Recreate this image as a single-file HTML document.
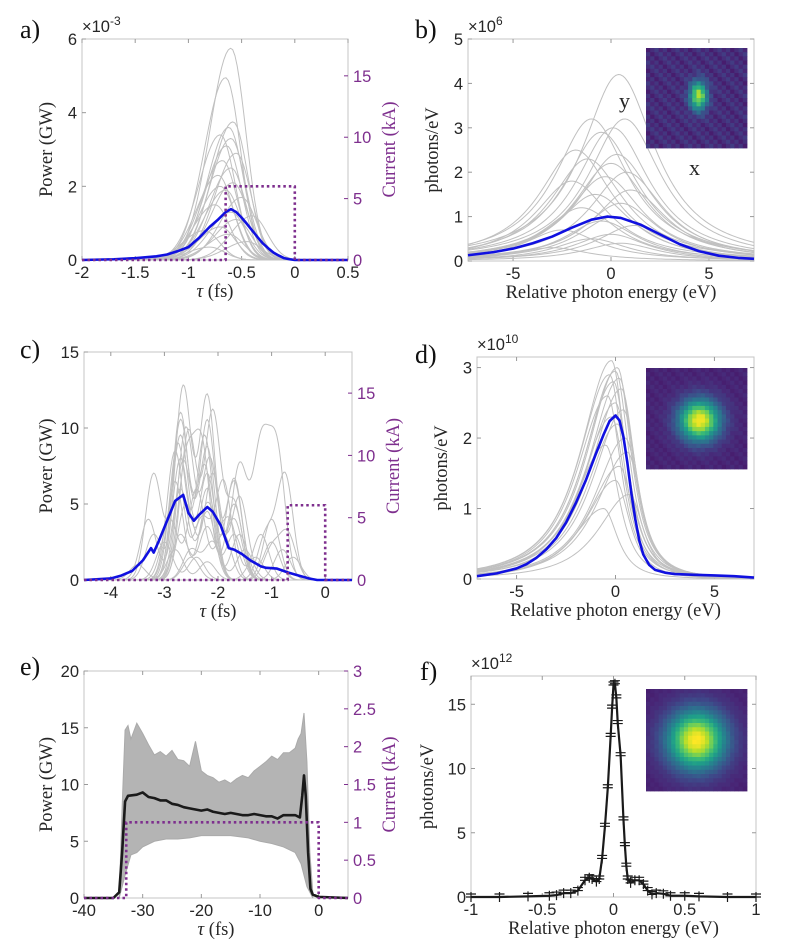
<!DOCTYPE html>
<html><head><meta charset="utf-8">
<style>
html,body{margin:0;padding:0;background:#fff;}
svg{display:block;}
.tk{font-family:"Liberation Sans",sans-serif;font-size:16.5px;fill:#262626;}
.lb{font-family:"Liberation Serif",serif;font-size:18.5px;fill:#262626;}
.pl{font-family:"Liberation Serif",serif;font-size:26px;fill:#111;}
</style></head>
<body>
<svg id="fig" width="787" height="945" viewBox="0 0 787 945"></svg>
<script>
// ---------- data ----------
// panel a
const aMeanX = [-2,-1.7,-1.5,-1.3,-1.2,-1.1,-1.0,-0.9,-0.8,-0.72,-0.65,-0.6,-0.55,-0.5,-0.45,-0.4,-0.35,-0.3,-0.25,-0.2,-0.15,-0.1,-0.05,0,0.5];
const aMeanY = [0,0.02,0.05,0.1,0.15,0.24,0.35,0.6,0.9,1.1,1.3,1.38,1.3,1.15,0.98,0.8,0.62,0.45,0.32,0.2,0.12,0.05,0.02,0,0];
const aShotPeak = [5.75,4.95,3.75,3.6,3.4,3.3,3.1,2.9,2.7,2.5,2.3,2.1,1.9,1.7,1.5,1.3,1.1,0.9,0.7,0.5,0.35,0.8,1.2,2.0];
const aShotCenter = [-0.6,-0.65,-0.58,-0.62,-0.7,-0.6,-0.64,-0.55,-0.68,-0.6,-0.72,-0.58,-0.65,-0.5,-0.75,-0.6,-0.55,-0.7,-0.62,-0.45,-0.8,-0.85,-0.4,-0.7];
const aCurrentX = [-2,-0.65,-0.65,0,0,0.5];
const aCurrentY = [0,0,6,6,0,0];
// panel b
const bMeanX = [-7.3,-6,-5,-4,-3,-2,-1,-0.2,0.5,1.5,2.5,3.5,4.5,5.5,6.5,7.3];
const bMeanY = [0.13,0.2,0.28,0.4,0.55,0.75,0.93,1.0,0.97,0.82,0.6,0.38,0.22,0.12,0.07,0.05];
const bShotPeak = [4.2,3.2,3.2,3.0,2.9,2.5,2.4,2.3,2.2,2.0,1.9,1.8,1.6,1.5,1.3,1.2,1.0,0.9,0.8,0.7,0.6,0.5,0.4,0.3];
const bShotCenter = [0.4,-1.0,0.7,0.1,-0.5,-1.8,0.3,-1.2,0.0,0.8,-0.3,-2.0,1.0,-0.8,0.5,-1.5,0.2,-0.5,1.2,-2.5,0.0,-1.0,0.5,-3];
// panel c
const cMeanX = [-4.5,-4,-3.8,-3.6,-3.4,-3.25,-3.2,-3.1,-2.95,-2.8,-2.65,-2.55,-2.45,-2.35,-2.2,-2.1,-1.95,-1.8,-1.7,-1.55,-1.4,-1.2,-1.1,-0.9,-0.7,-0.5,-0.3,-0.15,0.5];
const cMeanY = [0,0.1,0.3,0.6,1.3,2.1,1.8,2.6,3.9,5.2,5.6,4.4,3.9,4.3,4.8,4.5,3.6,2.1,2.0,1.7,1.3,0.9,0.8,0.75,0.5,0.3,0.1,0,0];
const cShots = [
 [[-2.65,12.7],[-2.2,12.1],[-3.2,3],[-1.7,4]],
 [[-2.7,11],[-2.2,10.5],[-1.7,6.5]],
 [[-2.6,10],[-2.15,8],[-1.6,7.5],[-1.2,8.5],[-0.9,8.3]],
 [[-3.2,7],[-2.7,9.5],[-2.2,7]],
 [[-2.75,9],[-2.25,9.5],[-1.7,6.7]],
 [[-2.7,8],[-2.2,6],[-0.75,6.9],[-1.1,3]],
 [[-2.6,7.5],[-2.3,8.5],[-1.7,5]],
 [[-2.8,6.5],[-2.2,5],[-1.8,4],[-1.2,3]],
 [[-3.3,4],[-2.7,6],[-2.2,4.5]],
 [[-2.6,5],[-2.1,7],[-1.6,5.5],[-1,2.5]],
 [[-2.9,4],[-2.4,6],[-1.9,3]],
 [[-2.7,3],[-2.2,3.5],[-1.7,3],[-0.8,2]],
 [[-2.5,2],[-2.1,2.5],[-1.5,2]],
 [[-3,2.5],[-2.4,1.5],[-1.3,1.5]],
 [[-2.7,10.5],[-2.25,7.5],[-1.6,3]],
 [[-2.55,9.8],[-2.1,11],[-1.7,5]],
 [[-2.8,8.5],[-2.3,4],[-1.9,6.5]],
 [[-2.2,8.7],[-2.65,7.8],[-1.0,4]],
 [[-0.7,3],[-1.0,2],[-2.5,1.5]],
 [[-3.5,1],[-2.8,2],[-2.2,1.2],[-0.6,1.5]]
];
const cCurrentX = [-4.5,-0.7,-0.7,0,0,0.5];
const cCurrentY = [0,0,6,6,0,0];
// panel d
const dMeanX = [-7,-6,-5,-4.5,-4,-3.5,-3,-2.5,-2,-1.5,-1,-0.6,-0.3,0,0.2,0.4,0.6,0.8,1.0,1.2,1.4,1.7,2,2.5,3,4,5,6,7];
const dMeanY = [0.04,0.08,0.15,0.21,0.3,0.42,0.58,0.8,1.08,1.4,1.77,2.05,2.24,2.32,2.25,2.02,1.65,1.22,0.85,0.55,0.35,0.2,0.13,0.09,0.07,0.06,0.05,0.04,0.02];
const dShotPeak = [3.1,3.0,2.95,2.9,2.85,2.8,2.7,2.6,2.5,2.4,2.3,2.2,2.0,1.9,1.8,1.6,1.4,1.2,1.0];
const dShotCenter = [-0.2,0.1,0.0,-0.3,0.2,-0.1,0.3,-0.4,0.0,0.4,-0.2,0.1,0.5,-0.5,0.6,0.2,0.0,0.7,-0.6];
// panel e
const eMeanX = [-40,-35,-34,-33.5,-33,-32.5,-31,-30,-29,-28,-27,-26,-25,-24,-23,-22,-21,-20,-19,-18,-17,-16,-15,-14,-13,-12,-11,-10,-9,-8,-7,-6,-5,-4,-3.2,-2.8,-2.5,-2.2,-1.8,-1.4,-1,0,5];
const eMeanY = [0,0,0.5,4,8.5,9,9.1,9.3,8.9,8.8,8.6,8.6,8.3,8.2,8.0,7.9,7.8,7.7,7.8,7.6,7.5,7.4,7.5,7.4,7.3,7.3,7.4,7.3,7.2,7.2,7.0,7.3,7.3,7.3,7.1,9,10.8,9,4,0.8,0.3,0.1,0];
const eUpperX = [-34,-33.5,-33,-32.5,-32,-31,-30,-29,-28,-27,-26,-25,-24,-23,-22,-21,-20,-19,-18,-17,-16,-15,-14,-13,-12,-11,-10,-9,-8,-7,-6,-5,-4,-3.5,-3,-2.5,-2,-1.5,-1];
const eUpperY = [0,8,14.8,15.2,14,15.4,14.5,13.5,12.6,12.9,12.5,13,12.2,12.1,11.6,13.8,11.2,10.8,10.6,10.2,10.4,10.1,10.5,10.8,10.6,11.2,11.6,12,12.5,12.2,12.8,12.8,13.2,14,14.5,16.3,12,4,0.5];
const eLowerX = [-1,-1.5,-2,-3,-4,-6,-8,-10,-12,-15,-18,-20,-22,-24,-26,-28,-30,-31,-32,-33,-34];
const eLowerY = [0,0.5,1,3,4,4.5,4.8,5,5.3,5.5,5.5,5.5,5.3,5.2,5.2,5,4.5,4,3.8,2,0];
const eCurrentX = [-40,-32.8,-32.8,0,0,5];
const eCurrentY = [0,0,1,1,0,0];
// panel f
const fX = [-1,-0.8,-0.6,-0.45,-0.4,-0.35,-0.3,-0.25,-0.2,-0.17,-0.15,-0.12,-0.1,-0.08,-0.06,-0.04,-0.02,-0.01,0,0.01,0.02,0.03,0.05,0.07,0.08,0.09,0.1,0.12,0.15,0.18,0.21,0.24,0.27,0.3,0.35,0.4,0.5,0.6,0.8,1];
const fY = [0,0,0.05,0.1,0.15,0.3,0.3,0.5,1.3,1.5,1.4,1.2,1.4,3,5.5,8.5,12.5,14.7,16.5,16.6,15.5,13.5,11,6,4,2.4,1.4,1.1,1.3,1.3,1.0,0.5,0.2,0.3,0.25,0.1,0.1,0.05,0,0];

// ---------- helpers ----------
const NS = "http://www.w3.org/2000/svg";
const fig = document.getElementById('fig');
function mk(tag, attrs, parent){
  const el = document.createElementNS(NS, tag);
  for (const k in attrs) el.setAttribute(k, attrs[k]);
  (parent||fig).appendChild(el);
  return el;
}
function axisFns(p){
  const sx = v => p.L + (v - p.x0) / (p.x1 - p.x0) * (p.R - p.L);
  const sy = v => p.B - (v - p.y0) / (p.y1 - p.y0) * (p.B - p.T);
  const sr = v => p.B - v / p.yr1 * (p.B - p.T);
  return {sx, sy, sr};
}
function pathFrom(xs, ys, fx, fy){
  let d = '';
  for (let i = 0; i < xs.length; i++) d += (i ? 'L' : 'M') + fx(xs[i]).toFixed(2) + ',' + fy(ys[i]).toFixed(2);
  return d;
}
function drawLine(g, xs, ys, fx, fy, stroke, w, name, dash){
  const el = mk('path', {d: pathFrom(xs, ys, fx, fy), fill: 'none', stroke: stroke, 'stroke-width': w, 'stroke-linejoin': 'round'}, g);
  if (dash) el.setAttribute('stroke-dasharray', dash);
  
  
  return el;
}
function drawAxes(p, g){
  const f = axisFns(p);
  const box = mk('rect', {x: p.L, y: p.T, width: p.R - p.L, height: p.B - p.T, fill: 'none', stroke: '#c4c4c4', 'stroke-width': 1}, g);
  
  
  p.xt.forEach(v => {
    const x = f.sx(v);
    mk('line', {x1: x, x2: x, y1: p.B, y2: p.B - 4, stroke: '#999'}, g);
    mk('line', {x1: x, x2: x, y1: p.T, y2: p.T + 4, stroke: '#999'}, g);
    const t = mk('text', {x: x, y: p.B + 18, 'text-anchor': 'middle', class: 'tk'}, g);
    t.textContent = String(v);
    
    
  });
  p.yt.forEach(v => {
    const y = f.sy(v);
    mk('line', {x1: p.L, x2: p.L + 4, y1: y, y2: y, stroke: '#999'}, g);
    if (!p.yr1) mk('line', {x1: p.R, x2: p.R - 4, y1: y, y2: y, stroke: '#999'}, g);
    const t = mk('text', {x: p.L - 5, y: y + 6, 'text-anchor': 'end', class: 'tk'}, g);
    t.textContent = String(v);
    
    
  });
  if (p.yr1){
    p.yrt.forEach(v => {
      const y = f.sr(v);
      mk('line', {x1: p.R, x2: p.R - 4, y1: y, y2: y, stroke: '#7e2f8e'}, g);
      const t = mk('text', {x: p.R + 5, y: y + 6, 'text-anchor': 'start', class: 'tk', style: 'fill:#7e2f8e'}, g);
      t.textContent = String(v);
      
      
    });
    const rl = mk('text', {x: 0, y: 0, 'text-anchor': 'middle', class: 'lb', style: 'fill:#7e2f8e', transform: `translate(${p.R + 47},${(p.T + p.B) / 2}) rotate(-90)`}, g);
    rl.textContent = 'Current (kA)';
    
    
  }
  const xl = mk('text', {x: (p.L + p.R) / 2, y: p.B + 37, 'text-anchor': 'middle', class: 'lb'}, g);
  xl.innerHTML = p.xlabel;
  
  
  const yl = mk('text', {x: 0, y: 0, 'text-anchor': 'middle', class: 'lb', transform: `translate(${p.L - p.ylOff},${(p.T + p.B) / 2}) rotate(-90)`}, g);
  yl.textContent = p.ylabel;
  
  
  if (p.exp){
    const ex = mk('text', {x: p.L, y: p.T - 7, class: 'tk'}, g);
    ex.innerHTML = '×10<tspan dy="-7" font-size="12">' + p.exp + '</tspan>';
    
    
  }
  const pl = mk('text', {x: p.px, y: p.py, class: 'pl'}, g);
  pl.textContent = p.letter;
  
  
  return f;
}
const VIR = [[68,1,84],[72,40,120],[62,73,137],[49,104,142],[38,130,142],[31,158,137],[53,183,121],[110,206,88],[181,222,43],[253,231,37]];
function viridis(t){
  t = Math.max(0, Math.min(1, t)) * (VIR.length - 1);
  const i = Math.min(VIR.length - 2, Math.floor(t)), f = t - i;
  const c = VIR[i].map((v, k) => Math.round(v + (VIR[i + 1][k] - v) * f));
  return `rgb(${c[0]},${c[1]},${c[2]})`;
}
function inset(x, y, w, h, n, cx, cy, sx, sy, amp, noise, name){
  const g = mk('g', {});
  
  
  const cw = w / n, ch = h / n;
  for (let i = 0; i < n; i++) for (let j = 0; j < n; j++){
    const dx = (i + 0.5) / n - cx, dy = (j + 0.5) / n - cy;
    const v = 0.08 + amp * Math.exp(-(dx * dx) / (2 * sx * sx) - (dy * dy) / (2 * sy * sy)) + ((i * 7 + j * 13) % 5) * noise;
    mk('rect', {x: (x + i * cw).toFixed(2), y: (y + j * ch).toFixed(2), width: cw + 0.4, height: ch + 0.4, fill: viridis(v)}, g);
  }
}
function sampleGrid(a, b, n){ const r = []; for (let i = 0; i <= n; i++) r.push(a + (b - a) * i / n); return r; }

// ---------- panel a ----------
{
  const p = {L:82,R:348,T:39,B:260,x0:-2,x1:0.5,y0:0,y1:6,yr1:18,xt:[-2,-1.5,-1,-0.5,0,0.5],yt:[0,2,4,6],yrt:[0,5,10,15],xlabel:'<tspan font-style="italic">τ</tspan> (fs)',ylabel:'Power (GW)',ylOff:30,exp:'-3',letter:'a)',px:20,py:38};
  const g = mk('g', {});
  
  
  const f = drawAxes(p, g);
  const gx = sampleGrid(-2, 0.5, 120);
  aShotPeak.forEach((h, k) => {
    const c = aShotCenter[k];
    const ys = gx.map(x => { const s = x < c ? 0.2 : 0.14; return h * Math.exp(-((x - c) * (x - c)) / (2 * s * s)); });
    drawLine(g, gx, ys, f.sx, f.sy, '#c0c0c0', 1, 'shot-trace');
  });
  drawLine(g, aMeanX, aMeanY, f.sx, f.sy, '#1010e0', 2.6, 'mean-power-line');
  drawLine(g, aCurrentX, aCurrentY, f.sx, f.sr, '#7e2f8e', 2.6, 'current-profile', '2.5 3');
}
// ---------- panel b ----------
{
  const p = {L:468,R:754,T:39,B:261,x0:-7.3,x1:7.3,y0:0,y1:5,xt:[-5,0,5],yt:[0,1,2,3,4,5],xlabel:'Relative photon energy (eV)',ylabel:'photons/eV',ylOff:30,exp:'6',letter:'b)',px:415,py:38};
  const g = mk('g', {});
  
  
  const f = drawAxes(p, g);
  const gx = sampleGrid(-7.3, 7.3, 120);
  bShotPeak.forEach((h, k) => {
    const c = bShotCenter[k];
    const ys = gx.map(x => h / (1 + ((x - c) / 2.3) ** 2));
    drawLine(g, gx, ys, f.sx, f.sy, '#c0c0c0', 1, 'shot-spectrum');
  });
  drawLine(g, bMeanX, bMeanY, f.sx, f.sy, '#1010e0', 2.6, 'mean-spectrum-line');
  inset(646, 48, 101, 100, 24, 0.52, 0.48, 0.06, 0.1, 0.75, 0.025, 'beam-profile-inset-b');
  const ty = mk('text', {x: 619, y: 108, class: 'lb', style: 'font-size:22px'});
  ty.textContent = 'y';
  
  
  const tx = mk('text', {x: 689, y: 175, class: 'lb', style: 'font-size:22px'});
  tx.textContent = 'x';
  
  
}
// ---------- panel c ----------
{
  const p = {L:84,R:352,T:352,B:580,x0:-4.5,x1:0.5,y0:0,y1:15,yr1:18.3,xt:[-4,-3,-2,-1,0],yt:[0,5,10,15],yrt:[0,5,10,15],xlabel:'<tspan font-style="italic">τ</tspan> (fs)',ylabel:'Power (GW)',ylOff:32,letter:'c)',px:20,py:358};
  const g = mk('g', {});
  
  
  const f = drawAxes(p, g);
  const gx = sampleGrid(-4.5, 0.5, 200);
  cShots.forEach(shot => {
    const ys = gx.map(x => shot.reduce((s, pk) => s + pk[1] * Math.exp(-((x - pk[0]) ** 2) / (2 * 0.15 * 0.15)), 0));
    drawLine(g, gx, ys, f.sx, f.sy, '#c0c0c0', 1, 'shot-trace');
  });
  drawLine(g, cMeanX, cMeanY, f.sx, f.sy, '#1010e0', 2.6, 'mean-power-line');
  drawLine(g, cCurrentX, cCurrentY, f.sx, f.sr, '#7e2f8e', 2.6, 'current-profile', '2.5 3');
}
// ---------- panel d ----------
{
  const p = {L:477,R:754,T:357,B:579,x0:-7,x1:7,y0:0,y1:3.15,xt:[-5,0,5],yt:[0,1,2,3],xlabel:'Relative photon energy (eV)',ylabel:'photons/eV',ylOff:30,exp:'10',letter:'d)',px:415,py:363};
  const g = mk('g', {});
  
  
  const f = drawAxes(p, g);
  const gx = sampleGrid(-7, 7, 160);
  dShotPeak.forEach((h, k) => {
    const c = dShotCenter[k];
    const ys = gx.map(x => { const w = x < c ? 2.2 : 1.0; return h / (1 + ((x - c) / w) ** 2) ** 1.3; });
    drawLine(g, gx, ys, f.sx, f.sy, '#c0c0c0', 1, 'shot-spectrum');
  });
  drawLine(g, dMeanX, dMeanY, f.sx, f.sy, '#1010e0', 2.6, 'mean-spectrum-line');
  inset(646, 368, 101, 101, 24, 0.53, 0.52, 0.14, 0.14, 0.9, 0.01, 'beam-profile-inset-d');
}
// ---------- panel e ----------
{
  const p = {L:84,R:348,T:671,B:898,x0:-40,x1:5,y0:0,y1:20,yr1:3,xt:[-40,-30,-20,-10,0],yt:[0,5,10,15,20],yrt:[0,0.5,1,1.5,2,2.5,3],xlabel:'<tspan font-style="italic">τ</tspan> (fs)',ylabel:'Power (GW)',ylOff:32,letter:'e)',px:20,py:675};
  const g = mk('g', {});
  
  
  const f = drawAxes(p, g);
  const band = mk('path', {d: pathFrom(eUpperX.concat(eLowerX), eUpperY.concat(eLowerY), f.sx, f.sy) + 'Z', fill: '#b4b4b4', stroke: '#aaaaaa', 'stroke-width': 1}, g);
  
  
  drawLine(g, eMeanX, eMeanY, f.sx, f.sy, '#1a1a1a', 2.6, 'mean-power-line');
  drawLine(g, eCurrentX, eCurrentY, f.sx, f.sr, '#7e2f8e', 2.6, 'current-profile', '2.5 3');
}
// ---------- panel f ----------
{
  const p = {L:471,R:756,T:676,B:897,x0:-1,x1:1,y0:0,y1:17.2,xt:[-1,-0.5,0,0.5,1],yt:[0,5,10,15],xlabel:'Relative photon energy (eV)',ylabel:'photons/eV',ylOff:38,exp:'12',letter:'f)',px:420,py:680};
  const g = mk('g', {});
  
  
  const f = drawAxes(p, g);
  drawLine(g, fX, fY, f.sx, f.sy, '#1a1a1a', 2.2, 'spectrum-line');
  fX.forEach((x, i) => {
    const cx = f.sx(x), cy = f.sy(fY[i]);
    const m = mk('path', {d: `M${cx - 5},${cy}H${cx + 5}M${cx},${cy - 5}V${cy + 5}M${cx - 5},${cy - 3}H${cx + 5}`, stroke: '#1a1a1a', 'stroke-width': 1.2}, g);
    
    
  });
  inset(646, 689, 101, 102, 24, 0.5, 0.5, 0.2, 0.2, 0.92, 0.005, 'beam-profile-inset-f');
}
</script>
</body></html>
